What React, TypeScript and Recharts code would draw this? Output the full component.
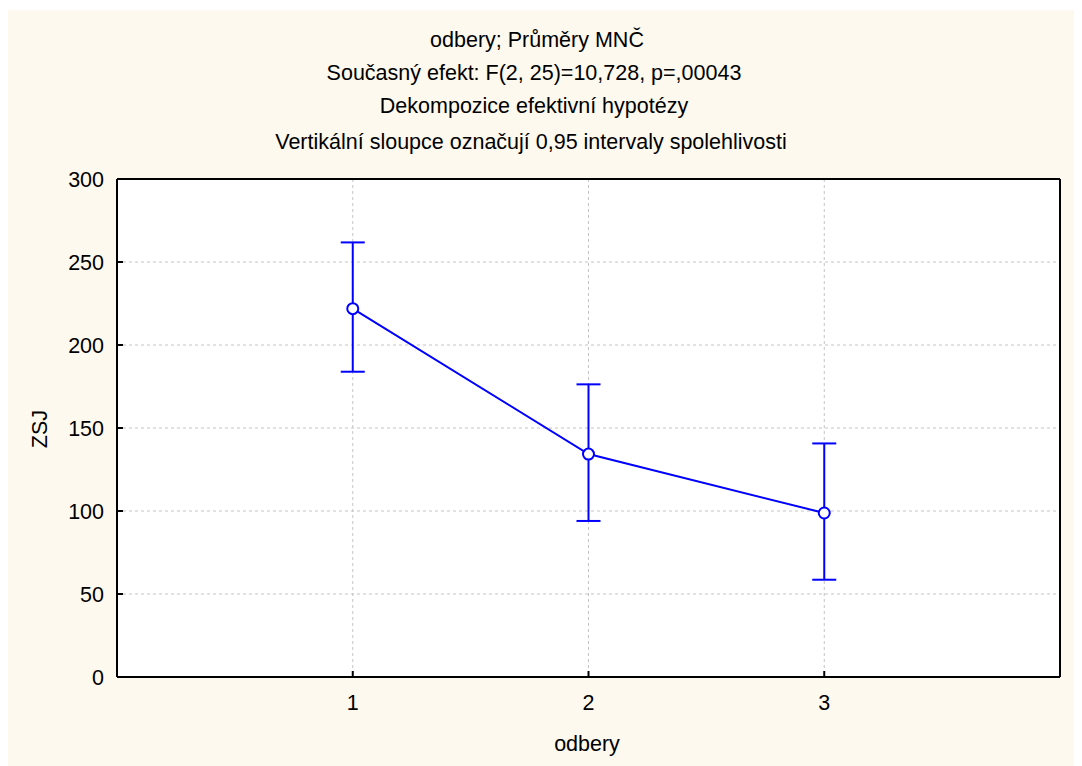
import React from 'react';
import { ComposedChart, Line, XAxis, YAxis, CartesianGrid, ErrorBar } from 'recharts';

const categories = [1, 2, 3];
const means = [221.9, 134.3, 98.8];
const lowerBounds = [183.9, 94.0, 58.6];
const upperBounds = [261.8, 176.3, 140.7];
const yTicks = [0, 50, 100, 150, 200, 250, 300];
const xTicks = [1, 2, 3];
const titleLines = [
  'odbery; Průměry MNČ',
  'Současný efekt: F(2, 25)=10,728, p=,00043',
  'Dekompozice efektivní hypotézy',
  'Vertikální sloupce označují 0,95 intervaly spolehlivosti',
];
const xLabel = 'odbery';
const yLabel = 'ZSJ';

const data = categories.map((c, i) => ({
  x: c,
  mean: means[i],
  err: [means[i] - lowerBounds[i], upperBounds[i] - means[i]],
}));

const FONT = '"Liberation Sans", Arial, sans-serif';
const W = 1075;
const H = 756;
const BLUE = '#0000ff';
const FS = 21.5;

const titleBaselines = [37, 70, 103, 139];
const titleCenters = [530, 527, 527, 524];

export default function App() {
  const tickStyle = { fill: '#000', fontSize: FS, fontFamily: FONT };
  return (
    <div
      style={{
        position: 'relative',
        width: W,
        height: H,
        marginLeft: -1,
        marginTop: 2,
        background: '#fef9ee',
        fontFamily: FONT,
        color: '#000',
      }}
    >
      <ComposedChart
        width={W}
        height={H}
        data={data}
        margin={{ top: 159, right: 12, bottom: 49, left: 50 }}
      >
        <CartesianGrid
          stroke="#c4c4c4"
          strokeDasharray="3 3"
          fill="#ffffff"
          horizontalValues={[50, 100, 150, 200, 250]}
          verticalValues={[1, 2, 3]}
        />
        <XAxis
          dataKey="x"
          type="number"
          domain={[0, 4]}
          ticks={xTicks}
          interval={0}
          height={40}
          axisLine={{ stroke: '#000', strokeWidth: 2 }}
          tickLine={{ stroke: '#000', strokeWidth: 2 }}
          tickSize={-6}
          tickMargin={24}
          tick={tickStyle}
        />
        <XAxis
          xAxisId="top"
          orientation="top"
          dataKey="x"
          type="number"
          domain={[0, 4]}
          ticks={xTicks}
          interval={0}
          height={10}
          axisLine={{ stroke: '#000', strokeWidth: 2 }}
          tickLine={{ stroke: '#000', strokeWidth: 2 }}
          tickSize={-6}
          tick={false}
        />
        <YAxis
          type="number"
          domain={[0, 300]}
          ticks={yTicks}
          interval={0}
          width={60}
          axisLine={{ stroke: '#000', strokeWidth: 2 }}
          tickLine={{ stroke: '#000', strokeWidth: 2 }}
          tickSize={-6}
          tickMargin={19}
          tick={tickStyle}
        />
        <YAxis
          yAxisId="right"
          orientation="right"
          type="number"
          domain={[0, 300]}
          ticks={yTicks}
          interval={0}
          width={10}
          axisLine={{ stroke: '#000', strokeWidth: 2 }}
          tickLine={{ stroke: '#000', strokeWidth: 2 }}
          tickSize={-6}
          tick={false}
        />
        <Line
          dataKey="mean"
          type="linear"
          stroke={BLUE}
          strokeWidth={2}
          dot={{ r: 5.5, stroke: BLUE, strokeWidth: 2, fill: '#ffffff' }}
          activeDot={false}
          isAnimationActive={false}
        >
          <ErrorBar dataKey="err" direction="y" width={12} stroke={BLUE} strokeWidth={2} />
        </Line>
      </ComposedChart>

      {titleLines.map((t, i) => (
        <div
          key={i}
          style={{
            position: 'absolute',
            left: titleCenters[i] - 400,
            width: 800,
            top: titleBaselines[i] - 20,
            height: 26,
            lineHeight: '26px',
            fontSize: FS,
            textAlign: 'center',
            whiteSpace: 'nowrap',
          }}
        >
          {t}
        </div>
      ))}
      <div
        style={{
          position: 'absolute',
          left: 580 - 100,
          width: 200,
          top: 741 - 20,
          height: 26,
          lineHeight: '26px',
          fontSize: FS,
          textAlign: 'center',
        }}
      >
        {xLabel}
      </div>
      <div
        style={{
          position: 'absolute',
          left: 33 - 50,
          width: 100,
          top: 419 - 13,
          height: 26,
          lineHeight: '26px',
          fontSize: FS,
          textAlign: 'center',
          transform: 'rotate(-90deg)',
        }}
      >
        {yLabel}
      </div>
    </div>
  );
}
